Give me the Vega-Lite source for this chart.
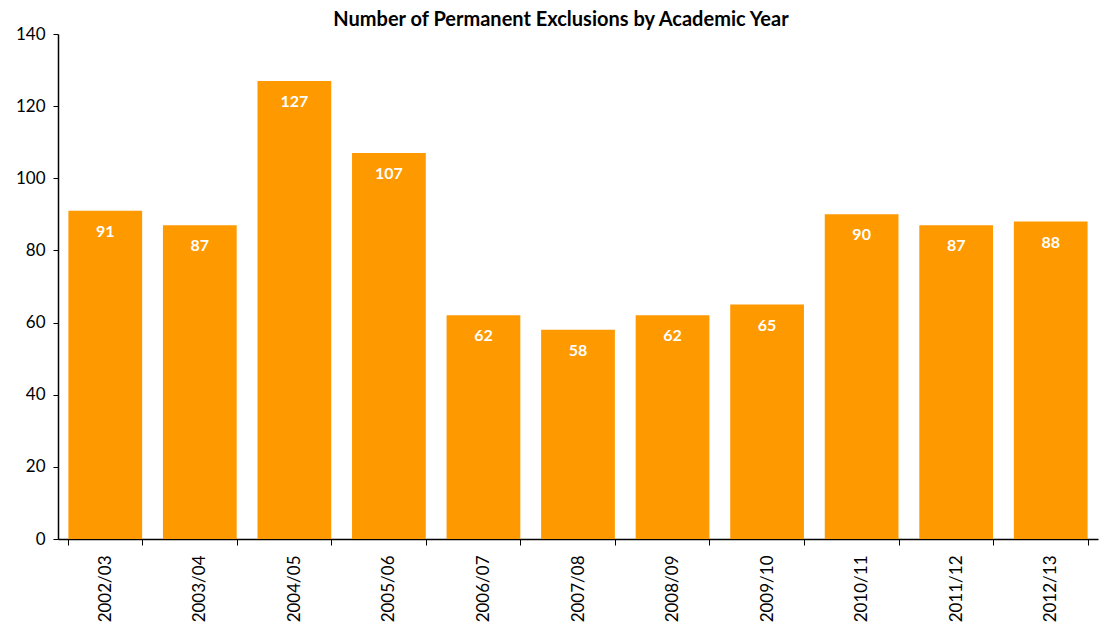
{
  "$schema": "https://vega.github.io/schema/vega-lite/v6.json",
  "autosize": "none",
  "padding": {"left": 58, "top": 34, "right": 1, "bottom": 84},
  "width": 1040,
  "height": 505,
  "background": "white",
  "title": {
    "text": "Number of Permanent Exclusions by Academic Year",
    "font": "Lato",
    "fontSize": 20,
    "fontWeight": "bold",
    "color": "black",
    "anchor": "middle",
    "baseline": "alphabetic",
    "offset": 0,
    "dy": 21,
    "dx": -17
  },
  "config": {"view": {"stroke": null}},
  "data": {
    "values": [
      {"year": "2002/03", "count": 91},
      {"year": "2003/04", "count": 87},
      {"year": "2004/05", "count": 127},
      {"year": "2005/06", "count": 107},
      {"year": "2006/07", "count": 62},
      {"year": "2007/08", "count": 58},
      {"year": "2008/09", "count": 62},
      {"year": "2009/10", "count": 65},
      {"year": "2010/11", "count": 90},
      {"year": "2011/12", "count": 87},
      {"year": "2012/13", "count": 88}
    ]
  },
  "encoding": {
    "x": {
      "field": "year",
      "type": "nominal",
      "sort": null,
      "scale": {"paddingInner": 0.22, "paddingOuter": 0.11},
      "axis": {
        "title": null,
        "labelAngle": -90,
        "labelAlign": "right",
        "labelBaseline": "middle",
        "labelFont": "Lato",
        "labelFontSize": 17,
        "labelColor": "black",
        "labelPadding": 10,
        "labelOverlap": false,
        "tickBand": "extent",
        "tickColor": "black",
        "tickSize": 6,
        "domainColor": "black",
        "domainWidth": 1.5
      }
    },
    "y": {
      "field": "count",
      "type": "quantitative",
      "scale": {"domain": [0, 140]},
      "axis": {
        "title": null,
        "values": [0, 20, 40, 60, 80, 100, 120, 140],
        "grid": false,
        "labelFont": "Lato",
        "labelFontSize": 17,
        "labelColor": "black",
        "labelPadding": 8,
        "tickColor": "black",
        "tickSize": 5,
        "domainColor": "black",
        "domainWidth": 1.5
      }
    }
  },
  "layer": [
    {"mark": {"type": "bar", "color": "#FF9900"}},
    {
      "mark": {
        "type": "text",
        "color": "white",
        "font": "Lato",
        "fontSize": 16,
        "fontWeight": "bold",
        "baseline": "middle",
        "dy": 21
      },
      "encoding": {"text": {"field": "count", "type": "quantitative"}}
    }
  ]
}
